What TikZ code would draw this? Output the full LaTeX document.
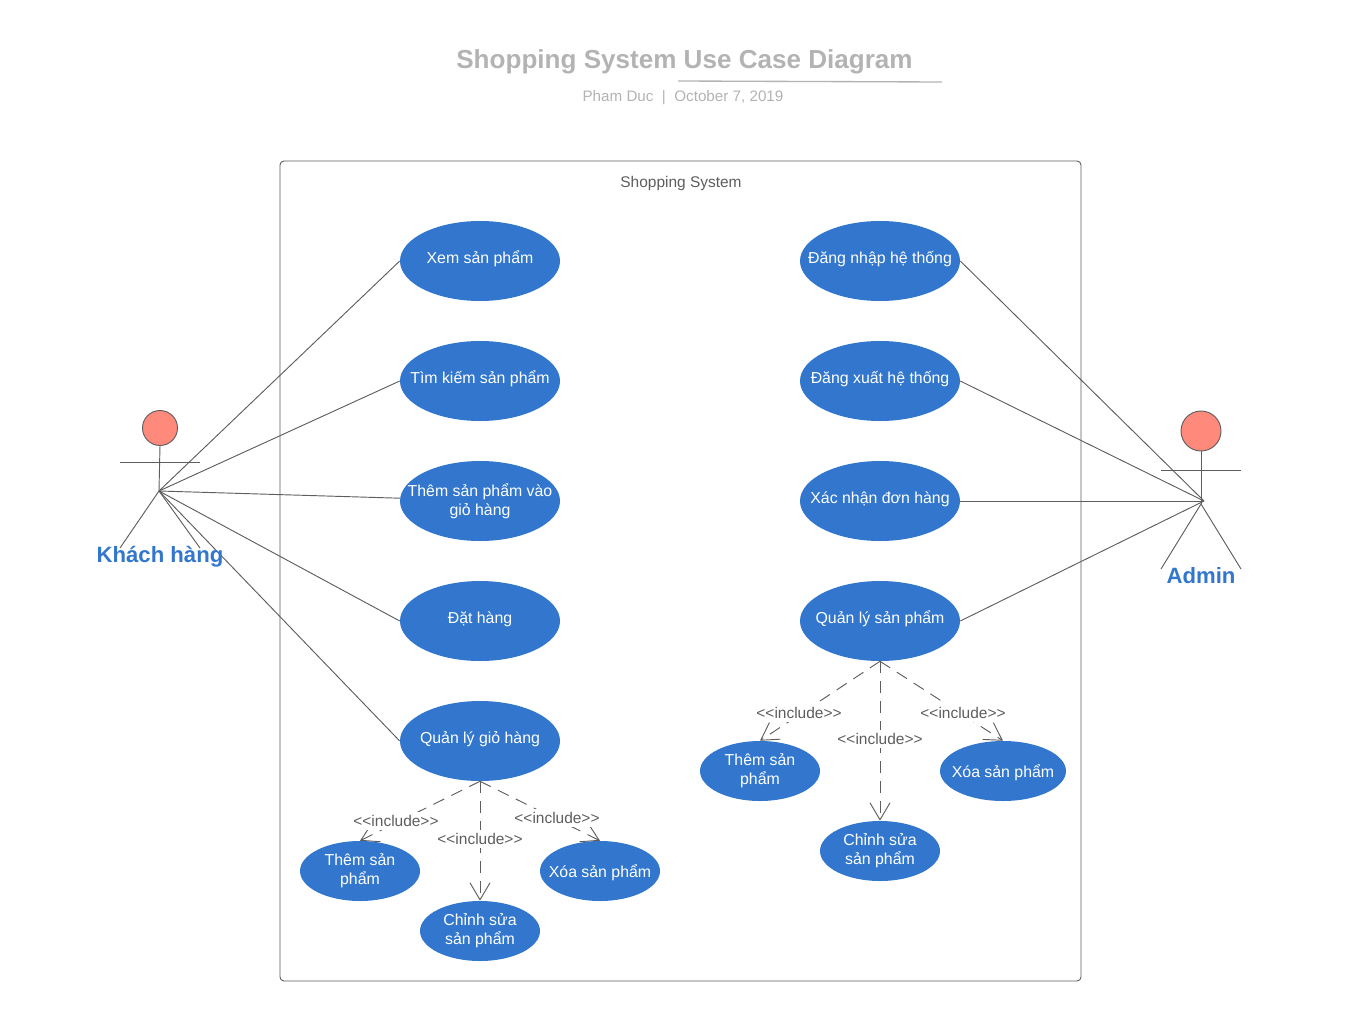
\documentclass[tikz,border=0pt]{standalone}
\usepackage{fontspec}
\setmainfont{Liberation Sans}
\usetikzlibrary{shapes,arrows.meta,positioning}
\definecolor{ucblue}{RGB}{50,119,205}
\definecolor{headred}{RGB}{255,138,124}
\definecolor{linegray}{RGB}{94,94,94}
\definecolor{titlegray}{RGB}{179,179,179}
\newcommand{\incltext}{<{}<include>{}>}
\tikzset{
  usecase/.style={ellipse,fill=ucblue,text=white,inner xsep=-50pt,inner ysep=-16pt,align=center,font=\fontsize{11.9}{14.3}\selectfont,minimum width=120pt,minimum height=60pt},
  smallcase/.style={usecase,minimum width=90pt,minimum height=45pt},
  raised/.style={text depth=5.2pt},
  raisedtwo/.style={text depth=3pt},
  lowered/.style={text height=11.6pt},
  assoc/.style={draw=linegray,line width=0.7pt},
  incl/.style={draw=linegray,line width=0.7pt,dash pattern=on 9pt off 6pt,-{Straight Barb[length=12.75pt,width=15pt,line width=0.7pt]}},
  incllabel/.style={text=linegray,inner xsep=0pt,inner ysep=2.5pt,font=\fontsize{11.6}{14}\selectfont},
  actorname/.style={text=ucblue,inner sep=0pt,font=\bfseries\fontsize{16.6}{20}\selectfont}
}

\begin{document}
\begin{tikzpicture}[x=0.75pt,y=-0.75pt]
    \useasboundingbox (0,0) rectangle (1360,1021);

    % Title
    \node[text=titlegray,inner sep=0pt,font=\bfseries\fontsize{19.55}{24}\selectfont] (title) at (684.5,62) {Shopping System Use Case Diagram};
    \node[text=titlegray,inner sep=0pt,font=\fontsize{11.4}{14}\selectfont] (subtitle) at (683,98) {Pham Duc\ \ |\ \ October 7, 2019};
    \coordinate (ruleL) at (678,81);
    \coordinate (ruleR) at (942,82);
    \draw[titlegray,line width=1pt] (ruleL) -- (ruleR);

    % System frame
    \draw[linegray,line width=0.7pt,rounded corners=3pt] (280,161) rectangle (1081,981);
    \node[text=linegray,inner sep=0pt,font=\fontsize{11.6}{14}\selectfont] (system) at (681,183) {Shopping System};

    % Left use cases
    \node[usecase,raised] (xem) at (480,261) {Xem sản phẩm};
    \node[usecase,raised] (tim) at (480,381) {Tìm kiếm sản phẩm};
    \node[usecase] (them) at (480,501) {Thêm sản phẩm vào\\giỏ hàng};
    \node[usecase,raised] (dat) at (480,621) {Đặt hàng};
    \node[usecase,raised] (gio) at (480,741) {Quản lý giỏ hàng};
    \node[smallcase,raisedtwo] (gioThem) at (360,871) {Thêm sản\\phẩm};
    \node[smallcase,lowered] (gioXoa) at (600,871) {Xóa sản phẩm};
    \node[smallcase,raisedtwo] (gioSua) at (480,931) {Chỉnh sửa\\sản phẩm};

    % Right use cases
    \node[usecase,raised] (nhap) at (880,261) {Đăng nhập hệ thống};
    \node[usecase,raised] (xuat) at (880,381) {Đăng xuất hệ thống};
    \node[usecase,raised] (xacnhan) at (880,501) {Xác nhận đơn hàng};
    \node[usecase,raised] (ql) at (880,621) {Quản lý sản phẩm};
    \node[smallcase,raisedtwo] (qlThem) at (760,771) {Thêm sản\\phẩm};
    \node[smallcase,lowered,minimum width=94.5pt] (qlXoa) at (1003,771) {Xóa sản phẩm};
    \node[smallcase,raisedtwo] (qlSua) at (880,851) {Chỉnh sửa\\sản phẩm};

    % Left actor
    \coordinate (hipL) at (159,491);
    \coordinate (armL1) at (120,462);
    \coordinate (armL2) at (200,462);
    \coordinate (footL1) at (120,548);
    \coordinate (footL2) at (200,548);
    \draw[assoc,fill=headred] (160,428) circle (17.5);
    \draw[assoc] (160,445.5) -- (hipL);
    \draw[assoc] (armL1) -- (armL2);
    \draw[assoc] (footL1) -- (hipL) -- (footL2);

    % Right actor
    \coordinate (hipR) at (1204,501);
    \coordinate (armR1) at (1161,470);
    \coordinate (armR2) at (1241,470);
    \coordinate (footR1) at (1161,569);
    \coordinate (footR2) at (1241,569);
    \draw[assoc,fill=headred] (1201,431) circle (20);
    \draw[assoc] (1201,451) -- (1201,504);
    \draw[assoc] (armR1) -- (armR2);
    \draw[assoc] (footR1) -- (1201,504) -- (footR2);

    % Associations
    \draw[assoc] (hipL) -- (xem.west);
    \draw[assoc] (hipL) -- (tim.west);
    \draw[assoc] (hipL) -- (them.178);
    \draw[assoc] (hipL) -- (dat.west);
    \draw[assoc] (hipL) -- (gio.west);
    \draw[assoc] (hipR) -- (nhap.east);
    \draw[assoc] (hipR) -- (xuat.east);
    \draw[assoc] (hipR) -- (xacnhan.east);
    \draw[assoc] (hipR) -- (ql.east);

    % Includes
    \draw[incl] (gio.south) -- (gioThem.north);
    \draw[incl] (gio.south) -- (gioSua.north);
    \draw[incl] (gio.south) -- (gioXoa.north);
    \draw[incl] (ql.south) -- (qlThem.north);
    \draw[incl] (ql.south) -- (qlSua.north);
    \draw[incl] (ql.south) -- (qlXoa.north);

    % Include labels
    \node[incllabel,fill=white] (lbl1) at (396,821) {\incltext};
    \node[incllabel,fill=white] (lbl2) at (480,839) {\incltext};
    \node[incllabel,fill=white] (lbl3) at (557,818) {\incltext};
    \node[incllabel,fill=white] (lbl4) at (799,713) {\incltext};
    \node[incllabel,fill=white] (lbl5) at (880,739) {\incltext};
    \node[incllabel,fill=white] (lbl6) at (963,713) {\incltext};

    % Actor names
    \node[actorname] (khach) at (160,557) {Khách hàng};
    \node[actorname] (admin) at (1201,575.5) {Admin};
\end{tikzpicture}
\end{document}
